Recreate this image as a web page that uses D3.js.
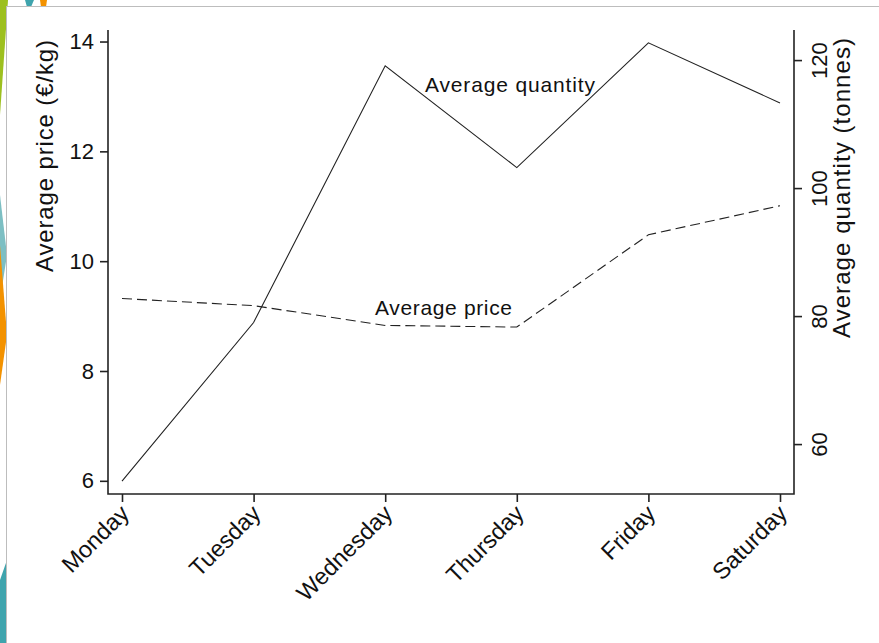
<!DOCTYPE html>
<html>
<head>
<meta charset="utf-8">
<script src="https://cdn.jsdelivr.net/npm/d3@7"></script>
<style>
  body { margin: 0; background: #fff; }
  svg { display: block; }
  text { font-family: "Liberation Sans", Arial, sans-serif; fill: #111; }
</style>
</head>
<body>
<svg></svg>
<script>
// SVG
var width = 879;
var height = 643;

// Data
var days = ["Monday", "Tuesday", "Wednesday", "Thursday", "Friday", "Saturday"];
var avgPrice = [9.32, 9.19, 8.83, 8.80, 10.48, 11.01];      // €/kg
var avgQuantity = [54.2, 79.0, 119.1, 103.2, 122.7, 113.3]; // tonnes
var priceTicks = [6, 8, 10, 12, 14];
var quantityTicks = [60, 80, 100, 120];

// plot frame (window.top is read-only, so use other names)
var plotLeft = 108, plotRight = 794, plotTop = 30, plotBottom = 494;

var svg = d3.select("svg")
    .attr("width", width)
    .attr("height", height);

// slide decorations behind the picture
var deco = svg.append("g");
deco.append("polygon").attr("points", "0,0 8,0 0,115").attr("fill", "#9dc01f");
deco.append("polygon").attr("points", "25,0 34,0 31,7 27,7").attr("fill", "#3fa4ad");
deco.append("polygon").attr("points", "40,0 47,0 46,7 41,7").attr("fill", "#f39200");
deco.append("polygon").attr("points", "0,195 7,255 0,300").attr("fill", "#7dbfc3");
deco.append("polygon").attr("points", "0,245 7,335 0,385").attr("fill", "#f39200");
deco.append("polygon").attr("points", "0,580 7,560 7,643 0,643").attr("fill", "#3fa4ad");

// picture frame
svg.append("rect")
    .attr("x", 6.5).attr("y", 6.5)
    .attr("width", width).attr("height", height)
    .attr("fill", "#fff")
    .attr("stroke", "#bdbdbd");

// Scales
var xScale = d3.scalePoint()
    .domain(days)
    .range([122, 780]);

var yPrice = d3.scaleLinear()
    .domain([5.76, 14.21])
    .range([plotBottom, plotTop]);

var yQty = d3.scaleLinear()
    .domain([52.2, 124.7])
    .range([plotBottom, plotTop]);

// Axes
var xAxis = d3.axisBottom(xScale).tickSize(8).tickSizeOuter(0);
var yAxisL = d3.axisLeft(yPrice).tickValues(priceTicks).tickSize(8).tickSizeOuter(0).tickPadding(6);
var yAxisR = d3.axisRight(yQty).tickValues(quantityTicks).tickSize(8).tickSizeOuter(0);

var gx = svg.append("g")
    .attr("transform", "translate(0," + plotBottom + ")")
    .call(xAxis);

var gl = svg.append("g")
    .attr("transform", "translate(" + plotLeft + ",0)")
    .call(yAxisL);

var gr = svg.append("g")
    .attr("transform", "translate(" + plotRight + ",0)")
    .call(yAxisR);
gr.selectAll("text")
    .attr("x", 0).attr("dy", 0)
    .attr("text-anchor", "middle")
    .attr("transform", "translate(33,0) rotate(-90)");

svg.selectAll(".domain").remove();
svg.selectAll(".tick line").attr("stroke", "#222").attr("stroke-width", 1.6);
svg.selectAll(".tick text").style("font-size", "22px").attr("fill", "#111");

gx.selectAll("text")
    .attr("y", 0).attr("dy", 0)
    .attr("text-anchor", "end")
    .style("font-size", "23.5px")
    .attr("transform", "translate(8,21) rotate(-45)");

// frame: left, bottom, right
svg.append("path")
    .attr("fill", "none")
    .attr("stroke", "#222")
    .attr("stroke-width", 1.6)
    .attr("d", "M" + plotLeft + "," + plotTop + "V" + plotBottom + "H" + plotRight + "V" + plotTop);

// Lines
var qtyLine = d3.line()
    .x(function(d, i) { return xScale(days[i]); })
    .y(function(d) { return yQty(d); });

var priceLine = d3.line()
    .x(function(d, i) { return xScale(days[i]); })
    .y(function(d) { return yPrice(d); });

svg.append("path")
    .attr("fill", "none")
    .attr("stroke", "#222")
    .attr("stroke-width", 1.1)
    .attr("d", qtyLine(avgQuantity));

svg.append("path")
    .attr("fill", "none")
    .attr("stroke", "#222")
    .attr("stroke-width", 1.1)
    .attr("stroke-dasharray", "10,5")
    .attr("d", priceLine(avgPrice));

// Line labels
svg.append("text")
    .attr("x", 425).attr("y", 92)
    .style("font-size", "21px")
    .attr("textLength", 170)
    .text("Average quantity");

svg.append("text")
    .attr("x", 375).attr("y", 315)
    .style("font-size", "21px")
    .attr("textLength", 137)
    .text("Average price");

// Axis titles
svg.append("text")
    .attr("transform", "translate(53,156) rotate(-90)")
    .attr("text-anchor", "middle")
    .style("font-size", "24px")
    .attr("textLength", 232)
    .text("Average price (€/kg)");

svg.append("text")
    .attr("transform", "translate(850,188) rotate(-90)")
    .attr("text-anchor", "middle")
    .style("font-size", "24px")
    .attr("textLength", 300)
    .text("Average quantity (tonnes)");
</script>
</body>
</html>
